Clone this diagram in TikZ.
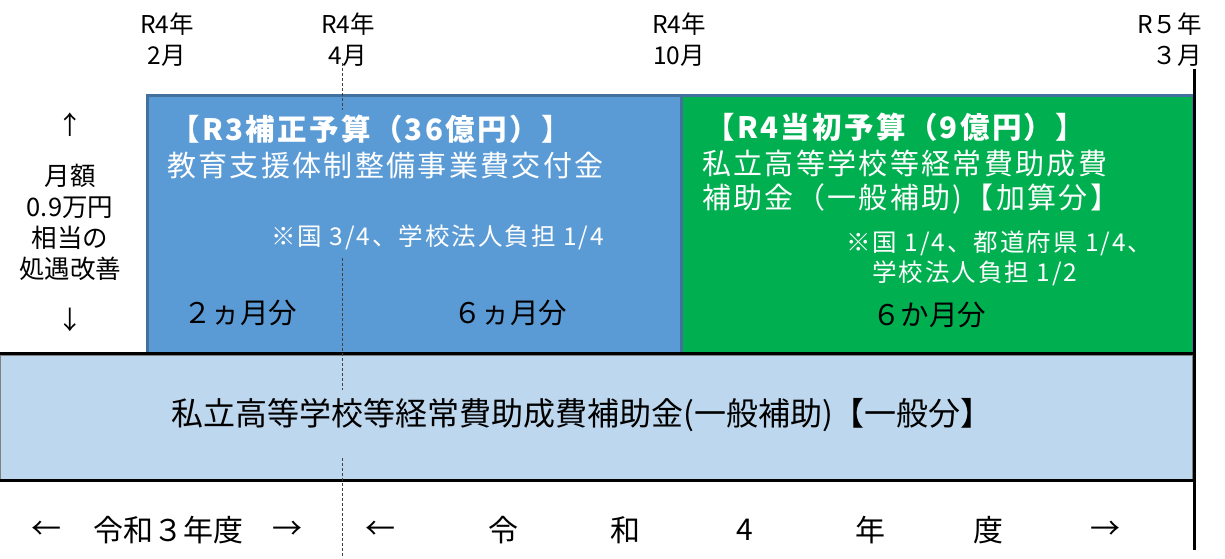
\documentclass[tikz,border=0pt]{standalone}
\usepackage{fontspec}
\setmainfont{Noto Sans CJK JP}
\newfontfamily\jpls[LetterSpace=8]{Noto Sans CJK JP}
\definecolor{bfill}{HTML}{5B9BD5}
\definecolor{bline}{HTML}{41719C}
\definecolor{gfill}{HTML}{00B050}
\definecolor{barfill}{HTML}{BDD7EE}
\definecolor{dashc}{HTML}{404040}
\tikzset{
  toplbl/.style={inner sep=0pt, align=center, font=\fontsize{24.5}{31}\selectfont},
  leftlbl/.style={inner sep=0pt, align=center, font=\fontsize{25.5}{31}\selectfont},
  boxr3/.style={draw=bline, line width=2.5pt, fill=bfill, anchor=north west, inner sep=0pt},
  boxr4/.style={draw=bline, line width=2.5pt, fill=gfill, anchor=north west, inner sep=0pt},
  barbox/.style={draw=gray, line width=0.8pt, fill=barfill, anchor=north west, inner sep=0pt},
  wtitle/.style={inner sep=0pt, anchor=west, text=white, font=\jpls\bfseries\fontsize{29.5}{29.5}\selectfont},
  wline/.style={inner sep=0pt, anchor=west, text=white, font=\jpls\fontsize{29}{29}\selectfont},
  wnote/.style={inner sep=0pt, anchor=west, text=white, font=\jpls\fontsize{24.5}{24.5}\selectfont},
  months/.style={inner sep=0pt, anchor=west, text=black, font=\fontsize{28.5}{28.5}\selectfont},
  bartext/.style={inner sep=0pt, text=black, font=\fontsize{32}{32}\selectfont},
  fy/.style={inner sep=0pt, text=black, font=\fontsize{30}{30}\selectfont},
  refline/.style={dashc, line width=0.9pt, dash pattern=on 3pt off 2pt},
  blackline/.style={black, line width=3pt}
}
\begin{document}
\begin{tikzpicture}[x=1pt,y=-1pt]
\useasboundingbox (0,0) rectangle (1225,558);

% top month labels
\node[toplbl] (t1) at (167,40) {R4年\\2月};
\node[toplbl] (t2) at (348,40) {R4年\\4月};
\node[toplbl] (t3) at (679,40) {R4年\\10月};
\node[toplbl, align=right, anchor=east] (t4) at (1202,40) {R５年\\３月};

% left description
\node[leftlbl] (up) at (70,125) {↑};
\node[leftlbl] (desc) at (70,222) {月額\\0.9万円\\相当の\\処遇改善};
\node[leftlbl] (down) at (70,320) {↓};

% boxes
\node[boxr3, minimum width=534pt, minimum height=258pt] (r3) at (146,94) {};
\node[boxr4, minimum width=512pt, minimum height=258pt] (r4) at (680,94) {};
\node[barbox, minimum width=1192pt, minimum height=124pt] (bar) at (0,354.5) {};

% black lines
\coordinate (bt0) at (0,353);
\coordinate (bt1) at (1194,353);
\coordinate (bb0) at (0,480);
\coordinate (bb1) at (1194,480);
\draw[blackline] (bt0) -- (bt1);
\draw[blackline] (bb0) -- (bb1);
\coordinate (vt) at (1194,69);
\coordinate (vb) at (1194,550);
\draw[blackline] (vt) -- (vb);

% dashed reference line (April)
\coordinate (d1a) at (342,63);
\coordinate (d1b) at (342,110);
\coordinate (d2a) at (342,258);
\coordinate (d2b) at (342,390);
\coordinate (d3a) at (342,458);
\coordinate (d3b) at (342,558);
\draw[refline] (d1a) -- (d1b);
\draw[refline] (d2a) -- (d2b);
\draw[refline] (d3a) -- (d3b);

% R3 box texts
\node[wtitle] (r3t) at (170,129) {【R3補正予算（36億円）】};
\node[wline] (r3n) at (167,166) {教育支援体制整備事業費交付金};
\node[wnote] (r3s) at (271,237) {※国 3/4、学校法人負担 1/4};
\node[months] (r3a) at (183,313) {２ヵ月分};
\node[months] (r3b) at (453,313) {６ヵ月分};

% R4 box texts
\node[wtitle] (r4t) at (705,127) {【R4当初予算（9億円）】};
\node[wline] (r4n1) at (702,164) {私立高等学校等経常費助成費};
\node[wline] (r4n2) at (702,199) {補助金（一般補助)【加算分】};
\node[wnote] (r4s1) at (846,243) {※国 1/4、都道府県 1/4、};
\node[wnote] (r4s2) at (872,273) {学校法人負担 1/2};
\node[months] (r4a) at (872,315) {６か月分};

% bar text
\node[bartext] (bart) at (582,415) {私立高等学校等経常費助成費補助金(一般補助)【一般分】};

% fiscal years
\node[fy] (f1) at (46,530) {←};
\node[fy] (f2) at (168,530) {令和３年度};
\node[fy] (f3) at (287,530) {→};
\node[fy] (g1) at (380,530) {←};
\node[fy] (g2) at (503,530) {令};
\node[fy] (g3) at (625,530) {和};
\node[fy] (g4) at (745,530) {4};
\node[fy] (g5) at (870,530) {年};
\node[fy] (g6) at (988,530) {度};
\node[fy] (g7) at (1105,530) {→};
\end{tikzpicture}
\end{document}
